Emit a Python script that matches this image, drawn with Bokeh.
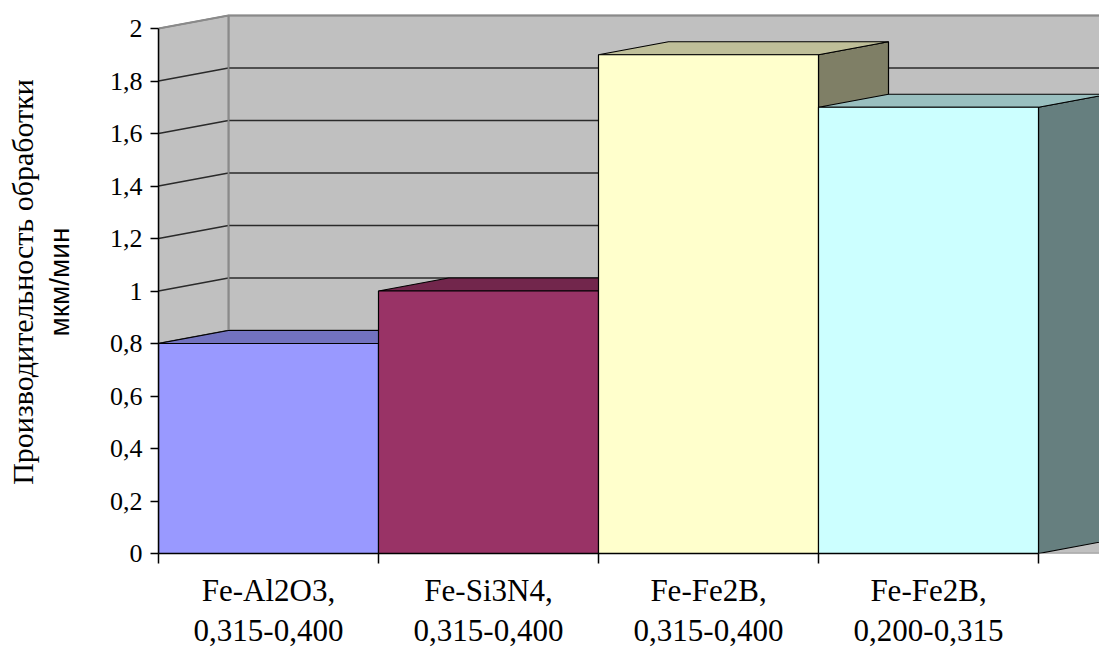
from bokeh.plotting import figure
from bokeh.models import (Range1d, FixedTicker, ColumnDataSource, LinearAxis)
from bokeh.embed import file_html
from bokeh.resources import INLINE

# ---------------- data ----------------
categories = ["Fe-Al2O3,\n0,315-0,400", "Fe-Si3N4,\n0,315-0,400",
              "Fe-Fe2B,\n0,315-0,400", "Fe-Fe2B,\n0,200-0,315"]
values = [0.8, 1.0, 1.9, 1.7]
front_colors = ["#9999FF", "#993366", "#FFFFCC", "#CCFFFF"]
y_ticks = [0, 0.2, 0.4, 0.6, 0.8, 1.0, 1.2, 1.4, 1.6, 1.8, 2.0]
y_tick_labels = ["0", "0,2", "0,4", "0,6", "0,8", "1", "1,2", "1,4", "1,6", "1,8", "2"]
y_title = "Производительность обработки"
y_unit = "мкм/мин"

# ---------------- geometry (3D oblique projection) ----------------
W, H = 1099, 651
FL, FT, FB = 158, 10, 553          # frame left / top / bottom in pixels
DX = 70 / 220.0                    # depth offset in category units
DY = 13 / 262.5                    # depth offset in value units
Y_MAX = 2.0
X_END = (W - FL) / 220.0
Y_END = (FB - FT) / 262.5


def shade(hexcol, f):
    h = hexcol.lstrip("#")
    r, g, b = (int(h[i:i + 2], 16) for i in (0, 2, 4))
    return "#%02X%02X%02X" % (int(r * f), int(g * f), int(b * f))


p = figure(width=W, height=H, output_backend="svg", toolbar_location=None,
           x_range=Range1d(0, X_END), y_range=Range1d(0, Y_END),
           min_border_left=FL, min_border_right=0, min_border_top=FT,
           min_border_bottom=H - FB)
p.outline_line_color = None
p.xgrid.visible = False
p.ygrid.visible = False
p.background_fill_color = "white"

# walls
wall_x = [[DX, X_END + 1, X_END + 1, DX], [0, DX, DX, 0], [0, DX, X_END + 1, X_END + 1]]
wall_y = [[DY, DY, Y_MAX + DY, Y_MAX + DY], [0, DY, Y_MAX + DY, Y_MAX], [0, DY, DY, 0]]
p.patches(wall_x, wall_y, fill_color="#C0C0C0", line_color="#808080", line_width=1.5)

# gridlines on back wall and side wall
gx, gy = [], []
for t in y_ticks[1:-1]:
    gx.append([0, DX, X_END + 1])
    gy.append([t, t + DY, t + DY])
p.multi_line(gx, gy, line_color="#2a2a2a", line_width=1.6)
# wall edges (grey)
p.multi_line([[DX, DX], [0, DX, X_END + 1]],
             [[DY, Y_MAX + DY], [Y_MAX, Y_MAX + DY, Y_MAX + DY]],
             line_color="#8a8a8a", line_width=1.8)

# bars: for each bar draw right face, top face, then front
for i, (v, c) in enumerate(zip(values, front_colors)):
    side = ColumnDataSource(dict(
        xs=[[i + 1, i + 1 + DX, i + 1 + DX, i + 1]],
        ys=[[0, DY, v + DY, v]]))
    p.patches("xs", "ys", source=side, fill_color=shade(c, 0.5),
              line_color="black", line_width=1.2)
    top = ColumnDataSource(dict(
        xs=[[i, i + DX, i + 1 + DX, i + 1]],
        ys=[[v, v + DY, v + DY, v]]))
    p.patches("xs", "ys", source=top, fill_color=shade(c, 0.75),
              line_color="black", line_width=1.2)
    p.quad(left=[i], right=[i + 1], bottom=[0], top=[v], fill_color=c,
           line_color="black", line_width=1.2)

# ---------------- axes ----------------
ya = p.yaxis[0]
ya.ticker = FixedTicker(ticks=y_ticks)
ya.major_label_overrides = {t: l for t, l in zip(y_ticks, y_tick_labels)}
ya.bounds = (0, Y_MAX)
ya.axis_line_color = "black"
ya.axis_line_width = 1.5
ya.major_tick_in = 0
ya.major_tick_out = 8
ya.major_tick_line_width = 1.5
ya.minor_tick_line_color = None
ya.major_label_text_font = "Liberation Serif"
ya.major_label_text_font_size = "26px"
ya.major_label_text_color = "black"
ya.major_label_standoff = 8
ya.axis_label = y_unit
ya.axis_label_text_font = "Liberation Sans"
ya.axis_label_text_font_size = "28px"
ya.axis_label_text_font_style = "normal"
ya.axis_label_text_color = "black"
ya.axis_label_standoff = 32

ya2 = LinearAxis(ticker=FixedTicker(ticks=[]), bounds=(0, Y_MAX),
                 axis_line_color=None, major_tick_line_color=None,
                 minor_tick_line_color=None, major_label_text_font_size="0px",
                 axis_label=y_title, axis_label_text_font="Liberation Serif",
                 axis_label_text_font_size="30px", axis_label_text_font_style="normal",
                 axis_label_text_color="black", axis_label_standoff=2)
p.add_layout(ya2, "left")

xa = p.xaxis[0]
centers = [i + 0.5 for i in range(len(categories))]
xa.ticker = FixedTicker(ticks=centers, minor_ticks=list(range(len(categories) + 1)))
xa.major_label_overrides = {c: l for c, l in zip(centers, categories)}
xa.bounds = (0, len(categories))
xa.axis_line_color = "black"
xa.axis_line_width = 1.5
xa.major_tick_line_color = None
xa.minor_tick_in = 0
xa.minor_tick_out = 10
xa.minor_tick_line_color = "black"
xa.minor_tick_line_width = 1.5
xa.major_label_text_font = "Liberation Serif"
xa.major_label_text_font_size = "31px"
xa.major_label_text_color = "black"
xa.major_label_text_line_height = 1.15
xa.major_label_standoff = 9

open("out.html", "w").write(file_html(p, INLINE))
